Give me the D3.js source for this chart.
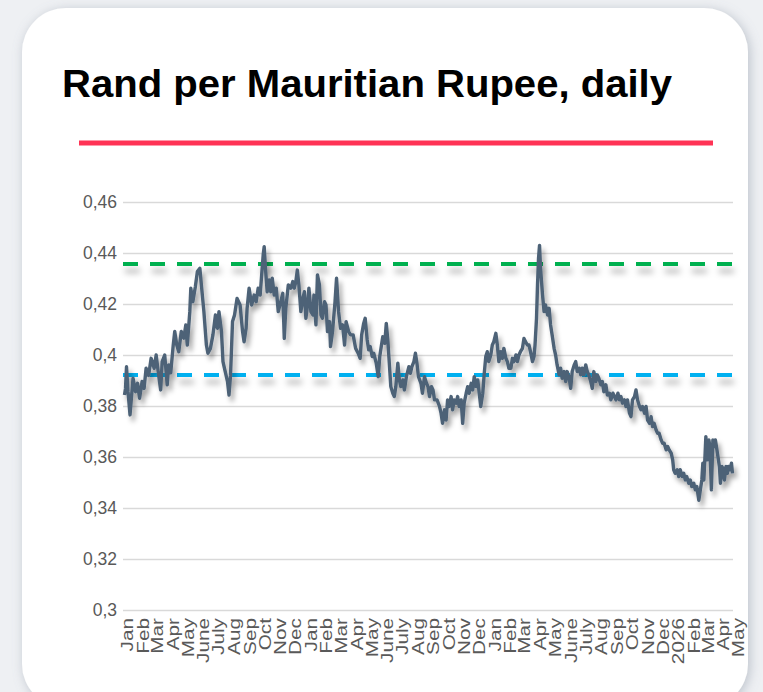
<!DOCTYPE html>
<html>
<head>
<meta charset="utf-8">
<script src="https://cdn.jsdelivr.net/npm/d3@7"></script>
<style>
  html, body { margin: 0; padding: 0; background: #eef0f3; }
  svg { display: block; }
</style>
</head>
<body>
<svg id="chart"></svg>
<script>
var width = 763, height = 692;

var title = "Rand per Mauritian Rupee, daily";

// y axis ticks and their labels (comma decimals as in the original)
var yTicks = [0.30, 0.32, 0.34, 0.36, 0.38, 0.40, 0.42, 0.44, 0.46];
var yTickLabels = ["0,3", "0,32", "0,34", "0,36", "0,38", "0,4", "0,42", "0,44", "0,46"];

// one label per month, Jan 2023 .. May 2026
var xTickLabels = [
  "Jan","Feb","Mar","Apr","May","June","July","Aug","Sep","Oct","Nov","Dec",
  "Jan","Feb","Mar","Apr","May","June","July","Aug","Sep","Oct","Nov","Dec",
  "Jan","Feb","Mar","Apr","May","June","July","Aug","Sep","Oct","Nov","Dec",
  "2026","Feb","Mar","Apr","May"
];

// reference levels (green upper, blue lower)
var refLevels = [0.4357, 0.3922];
var refColors = ["#00b050", "#00b0f0"];

// ZAR per MUR
var rateData = [
  ["2023-01-02",.3843],["2023-01-04",.3869],["2023-01-06",.3954],["2023-01-09",.3856],["2023-01-13",.3765],
  ["2023-01-19",.3909],["2023-01-24",.3856],["2023-01-28",.3889],["2023-02-01",.3830],["2023-02-06",.3896],
  ["2023-02-10",.3869],["2023-02-14",.3948],["2023-02-19",.3920],["2023-02-24",.3987],["2023-03-02",.3948],
  ["2023-03-06",.4000],["2023-03-11",.3920],["2023-03-15",.3863],["2023-03-18",.3974],["2023-03-23",.4000],
  ["2023-03-28",.3883],["2023-03-31",.3961],["2023-04-04",.3930],["2023-04-09",.4039],["2023-04-12",.4092],
  ["2023-04-16",.4039],["2023-04-20",.4013],["2023-04-25",.4092],["2023-04-30",.4066],["2023-05-04",.4118],
  ["2023-05-07",.4039],["2023-05-12",.4170],["2023-05-14",.4262],["2023-05-18",.4209],["2023-05-23",.4268],
  ["2023-05-27",.4327],["2023-06-01",.4340],["2023-06-04",.4275],["2023-06-09",.4170],["2023-06-14",.4039],
  ["2023-06-17",.4007],["2023-06-22",.4026],["2023-06-27",.4079],["2023-07-02",.4157],["2023-07-06",.4105],
  ["2023-07-09",.4170],["2023-07-14",.4092],["2023-07-17",.3974],["2023-07-20",.3948],["2023-07-26",.3896],
  ["2023-07-29",.3843],["2023-08-01",.3920],["2023-08-05",.4131],["2023-08-09",.4157],["2023-08-14",.4222],
  ["2023-08-20",.4196],["2023-08-25",.4092],["2023-08-28",.4052],["2023-09-01",.4105],["2023-09-03",.4183],
  ["2023-09-07",.4262],["2023-09-12",.4196],["2023-09-17",.4235],["2023-09-21",.4209],["2023-09-25",.4262],
  ["2023-09-29",.4235],["2023-10-02",.4314],["2023-10-05",.4392],["2023-10-07",.4425],["2023-10-10",.4327],
  ["2023-10-13",.4248],["2023-10-17",.4294],["2023-10-20",.4248],["2023-10-23",.4301],["2023-10-27",.4235],
  ["2023-10-31",.4262],["2023-11-04",.4170],["2023-11-09",.4209],["2023-11-13",.4242],["2023-11-16",.4065],
  ["2023-11-19",.4183],["2023-11-24",.4275],["2023-11-29",.4262],["2023-12-03",.4288],["2023-12-06",.4262],
  ["2023-12-09",.4288],["2023-12-12",.4333],["2023-12-15",.4275],["2023-12-19",.4170],["2023-12-23",.4222],
  ["2023-12-26",.4248],["2023-12-29",.4144],
  ["2024-01-02",.4209],["2024-01-04",.4262],["2024-01-08",.4170],["2024-01-12",.4157],["2024-01-14",.4235],
  ["2024-01-18",.4118],["2024-01-21",.4314],["2024-01-25",.4275],["2024-01-28",.4157],["2024-01-31",.4144],
  ["2024-02-04",.4209],["2024-02-07",.4196],["2024-02-10",.4092],["2024-02-14",.4131],["2024-02-16",.4033],
  ["2024-02-20",.4092],["2024-02-25",.4209],["2024-02-28",.4301],["2024-03-03",.4170],["2024-03-07",.4105],
  ["2024-03-11",.4118],["2024-03-15",.4039],["2024-03-18",.4131],["2024-03-23",.4092],["2024-03-27",.4079],
  ["2024-04-01",.4079],["2024-04-06",.4026],["2024-04-11",.4007],["2024-04-15",.3987],["2024-04-18",.4079],
  ["2024-04-22",.4124],["2024-04-25",.4144],["2024-04-29",.4059],["2024-05-02",.4020],["2024-05-05",.4033],
  ["2024-05-09",.3994],["2024-05-12",.4007],["2024-05-17",.3968],["2024-05-21",.3915],["2024-05-24",.3994],
  ["2024-05-27",.4033],["2024-05-30",.4072],["2024-06-03",.4046],["2024-06-06",.4124],["2024-06-09",.4059],
  ["2024-06-12",.3968],["2024-06-15",.3876],["2024-06-19",.3850],["2024-06-22",.3837],["2024-06-25",.3876],
  ["2024-06-29",.3968],["2024-07-02",.3902],["2024-07-05",.3876],["2024-07-09",.3902],["2024-07-12",.3863],
  ["2024-07-16",.3915],["2024-07-21",.3954],["2024-07-24",.3928],["2024-07-27",.3954],["2024-07-31",.3974],
  ["2024-08-03",.4007],["2024-08-06",.3968],["2024-08-09",.3915],["2024-08-14",.3889],["2024-08-17",.3850],
  ["2024-08-21",.3915],["2024-08-25",.3889],["2024-08-28",.3876],["2024-08-31",.3837],["2024-09-04",.3876],
  ["2024-09-07",.3863],["2024-09-10",.3824],["2024-09-15",.3824],["2024-09-20",.3798],["2024-09-23",.3772],
  ["2024-09-26",.3732],["2024-09-30",.3785],["2024-10-03",.3745],["2024-10-06",.3824],["2024-10-09",.3798],
  ["2024-10-13",.3837],["2024-10-16",.3785],["2024-10-19",.3824],["2024-10-23",.3811],["2024-10-26",.3837],
  ["2024-10-29",.3798],["2024-11-02",.3824],["2024-11-05",.3732],["2024-11-08",.3811],["2024-11-12",.3850],
  ["2024-11-15",.3876],["2024-11-18",.3850],["2024-11-22",.3889],["2024-11-25",.3863],["2024-11-28",.3915],
  ["2024-12-02",.3876],["2024-12-05",.3902],["2024-12-08",.3850],["2024-12-11",.3798],["2024-12-15",.3850],
  ["2024-12-18",.3928],["2024-12-21",.3994],["2024-12-24",.4013],["2024-12-27",.3974],["2024-12-31",.4000],
  ["2025-01-03",.4039],["2025-01-06",.4052],["2025-01-10",.4085],["2025-01-13",.4039],["2025-01-16",.3974],
  ["2025-01-20",.4013],["2025-01-23",.3987],["2025-01-26",.4026],["2025-01-30",.3987],["2025-02-02",.3974],
  ["2025-02-05",.3948],["2025-02-09",.3948],["2025-02-12",.3987],["2025-02-15",.3974],["2025-02-19",.4000],
  ["2025-02-22",.3974],["2025-02-25",.4000],["2025-02-28",.4013],["2025-03-04",.4026],["2025-03-07",.4065],
  ["2025-03-10",.4052],["2025-03-14",.4039],["2025-03-17",.4039],["2025-03-20",.4013],["2025-03-24",.3974],
  ["2025-03-27",.3994],["2025-03-29",.4039],["2025-04-01",.4144],["2025-04-03",.4275],["2025-04-05",.4379],
  ["2025-04-07",.4430],["2025-04-09",.4340],["2025-04-13",.4235],["2025-04-16",.4170],["2025-04-19",.4196],
  ["2025-04-23",.4157],["2025-04-26",.4183],["2025-04-29",.4118],["2025-05-02",.4079],["2025-05-06",.4026],
  ["2025-05-09",.4000],["2025-05-12",.3961],["2025-05-16",.3922],["2025-05-19",.3948],["2025-05-22",.3909],
  ["2025-05-26",.3935],["2025-05-29",.3896],["2025-06-01",.3935],["2025-06-05",.3909],["2025-06-08",.3869],
  ["2025-06-11",.3935],["2025-06-15",.3961],["2025-06-18",.3974],["2025-06-21",.3935],["2025-06-25",.3948],
  ["2025-06-28",.3922],["2025-07-01",.3948],["2025-07-04",.3922],["2025-07-08",.3961],["2025-07-11",.3935],
  ["2025-07-14",.3922],["2025-07-18",.3896],["2025-07-21",.3869],["2025-07-24",.3935],["2025-07-28",.3896],
  ["2025-07-31",.3922],["2025-08-03",.3909],["2025-08-07",.3883],["2025-08-10",.3896],["2025-08-13",.3856],
  ["2025-08-17",.3883],["2025-08-20",.3843],["2025-08-24",.3850],["2025-08-27",.3824],["2025-08-31",.3850],
  ["2025-09-03",.3837],["2025-09-06",.3824],["2025-09-10",.3850],["2025-09-13",.3824],["2025-09-16",.3837],
  ["2025-09-19",.3811],["2025-09-23",.3824],["2025-09-26",.3798],["2025-09-29",.3824],["2025-10-03",.3772],
  ["2025-10-06",.3758],["2025-10-09",.3824],["2025-10-13",.3837],["2025-10-16",.3863],["2025-10-19",.3824],
  ["2025-10-23",.3798],["2025-10-26",.3785],["2025-10-29",.3798],["2025-11-02",.3772],["2025-11-05",.3798],
  ["2025-11-08",.3745],["2025-11-12",.3732],["2025-11-15",.3758],["2025-11-18",.3719],["2025-11-21",.3732],
  ["2025-11-25",.3706],["2025-11-28",.3693],["2025-12-01",.3693],["2025-12-05",.3667],["2025-12-08",.3654],
  ["2025-12-11",.3654],["2025-12-15",.3628],["2025-12-18",.3641],["2025-12-21",.3628],["2025-12-25",.3615],
  ["2025-12-28",.3589],["2025-12-30",.3550],
  ["2026-01-02",.3536],["2026-01-06",.3550],["2026-01-09",.3523],["2026-01-12",.3550],["2026-01-16",.3523],
  ["2026-01-19",.3536],["2026-01-22",.3510],["2026-01-25",.3523],["2026-01-29",.3497],["2026-02-01",.3510],
  ["2026-02-04",.3484],["2026-02-08",.3497],["2026-02-11",.3471],["2026-02-14",.3484],["2026-02-18",.3430],
  ["2026-02-21",.3471],["2026-02-24",.3510],["2026-02-26",.3576],["2026-02-28",.3510],["2026-03-02",.3589],
  ["2026-03-04",.3680],["2026-03-07",.3589],["2026-03-10",.3667],["2026-03-12",.3641],["2026-03-15",.3471],
  ["2026-03-18",.3667],["2026-03-20",.3641],["2026-03-23",.3667],["2026-03-26",.3628],["2026-03-28",.3602],
  ["2026-03-31",.3563],["2026-04-02",.3497],["2026-04-05",.3563],["2026-04-08",.3550],["2026-04-10",.3510],
  ["2026-04-13",.3563],["2026-04-16",.3536],["2026-04-18",.3563],["2026-04-21",.3550],["2026-04-24",.3576],
  ["2026-04-26",.3536]
];

var parseDate = d3.timeParse("%Y-%m-%d");
var series = rateData.map(d => ({date: parseDate(d[0]), value: d[1]}));

var plotLeft = 124, plotRight = 735, plotTop = 202, plotBottom = 610;

var x = d3.scaleTime()
    .domain([new Date(2023, 0, 1), new Date(2026, 4, 1)])
    .range([plotLeft, plotRight]);

var y = d3.scaleLinear()
    .domain([0.30, 0.46])
    .range([plotBottom, plotTop]);

var svg = d3.select('#chart')
    .attr('width', width)
    .attr('height', height);

var defs = svg.append('defs');

function addShadow(id, dx, dy, blur, opacity, color){
    defs.append('filter').attr('id', id)
        .attr('filterUnits', 'userSpaceOnUse')
        .attr('x', 0).attr('y', 0).attr('width', width).attr('height', height + 40)
      .append('feDropShadow')
        .attr('dx', dx).attr('dy', dy).attr('stdDeviation', blur)
        .attr('flood-color', color).attr('flood-opacity', opacity);
}
addShadow('cardShadow', 2, 2, 6, 0.45, '#7f8a99');
addShadow('lineShadow', 3, 5, 2.5, 0.35, '#000');
addShadow('refShadow', 2, 7, 3, 0.3, '#000');

// card
svg.append('rect')
    .attr('x', 22).attr('y', 8)
    .attr('width', 726).attr('height', 700)
    .attr('rx', 44).attr('ry', 44)
    .attr('fill', '#fff')
    .attr('filter', 'url(#cardShadow)');

// title
svg.append('text')
    .attr('x', 62).attr('y', 97)
    .attr('textLength', 610)
    .attr('lengthAdjust', 'spacingAndGlyphs')
    .style('font-family', '"Liberation Sans", Arial, sans-serif')
    .style('font-weight', 'bold')
    .style('font-size', '38px')
    .style('fill', '#000')
    .text(title);

// red rule under the title
svg.append('line')
    .attr('x1', 79).attr('x2', 713)
    .attr('y1', 143).attr('y2', 143)
    .attr('stroke', '#ff3355')
    .attr('stroke-width', 5);

// y axis with gridlines
var yAxis = svg.append('g')
    .attr('transform', `translate(${plotLeft - 1},0)`)
    .call(d3.axisLeft(y)
        .tickValues(yTicks)
        .tickSize(-(plotRight - plotLeft - 1))
        .tickPadding(6)
        .tickFormat((d, i) => yTickLabels[i]));

yAxis.select('.domain').remove();
yAxis.selectAll('.tick line')
    .attr('stroke', '#d9d9d9')
    .attr('stroke-width', 1.5);
yAxis.selectAll('.tick text')
    .style('font-family', '"Liberation Sans", Arial, sans-serif')
    .style('font-size', '17.5px')
    .style('fill', '#595959');

// x axis, month labels rotated
var monthTicks = d3.timeMonth.range(new Date(2023, 0, 1), new Date(2026, 5, 1));

var xAxis = svg.append('g')
    .attr('transform', `translate(0,${plotBottom})`)
    .call(d3.axisBottom(x)
        .tickValues(monthTicks)
        .tickSize(0)
        .tickFormat((d, i) => xTickLabels[i]));

xAxis.select('.domain').remove();
xAxis.selectAll('.tick text')
    .attr('transform', 'translate(3,8) rotate(-90) scale(1.22,1)')
    .attr('x', 0)
    .attr('y', 0)
    .attr('dy', '0.35em')
    .attr('text-anchor', 'end')
    .style('font-family', '"Liberation Sans", Arial, sans-serif')
    .style('font-size', '17px')
    .style('fill', '#595959');

// dashed reference levels
svg.append('g')
    .selectAll('line')
    .data(refLevels)
    .enter()
    .append('line')
        .attr('x1', plotLeft - 1)
        .attr('x2', plotRight - 2)
        .attr('y1', d => y(d))
        .attr('y2', d => y(d))
        .attr('stroke', (d, i) => refColors[i])
        .attr('stroke-width', 4)
        .attr('stroke-dasharray', '15 12')
        .attr('filter', 'url(#refShadow)');

// the rate line
var line = d3.line()
    .x(d => x(d.date))
    .y(d => y(d.value));

svg.append('path')
    .datum(series)
    .attr('d', line)
    .attr('fill', 'none')
    .attr('stroke', '#4d6277')
    .attr('stroke-width', 3.4)
    .attr('stroke-linejoin', 'round')
    .attr('filter', 'url(#lineShadow)');
</script>
</body>
</html>
